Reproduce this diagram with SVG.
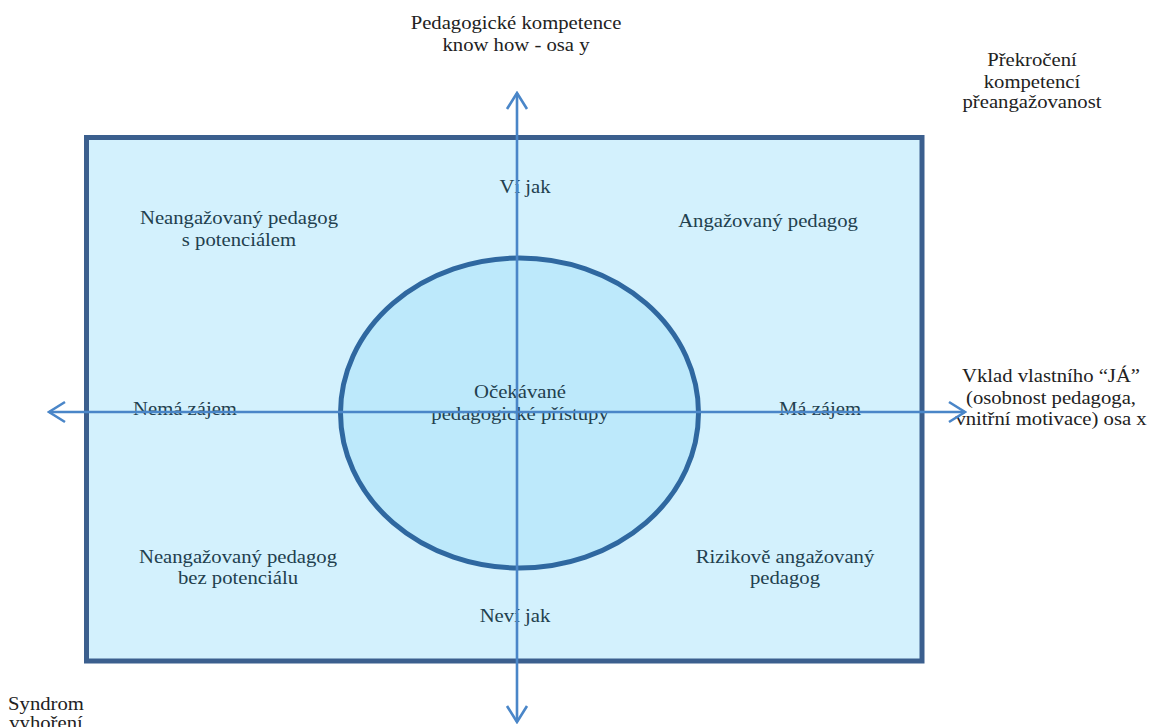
<svg xmlns="http://www.w3.org/2000/svg" width="1162" height="727" viewBox="0 0 1162 727" font-family="'Liberation Serif', 'Times New Roman', serif">
<defs>
<style>
text{font-family:'Liberation Serif','Times New Roman',serif;font-size:18px;text-anchor:middle}
.o{fill:#222}
.i{fill:#22404e}
.ax{stroke:#4a86c8;stroke-width:2.6;fill:none}
</style>
<marker id="ah" viewBox="0 0 20 24" refX="18" refY="12" markerWidth="20" markerHeight="24" markerUnits="userSpaceOnUse" orient="auto">
<path d="M2,2 L18,12 L2,22" fill="none" stroke="#4a86c8" stroke-width="2.6"/>
</marker>
</defs>
<rect width="1162" height="727" fill="#fff"/>
<g id="frame">
<rect x="86.5" y="137.5" width="835.5" height="523.5" fill="#d3f1fd" stroke="#3b5f8e" stroke-width="5"/>
</g>
<g id="center">
<ellipse cx="519.5" cy="413" rx="179" ry="155" fill="#bde9fb" stroke="#2f68a0" stroke-width="5"/>
<text class="i" transform="translate(520 398) scale(1.15 1)">Očekávané</text>
<text class="i" transform="translate(520 420) scale(1.15 1)">pedagogické přístupy</text>
</g>
<g id="title-y">
<text class="o" transform="translate(516 29) scale(1.15 1)">Pedagogické kompetence</text>
<text class="o" transform="translate(516 51) scale(1.15 1)">know how - osa y</text>
</g>
<g id="over">
<text class="o" transform="translate(1032 66) scale(1.15 1)">Překročení</text>
<text class="o" transform="translate(1032 88) scale(1.15 1)">kompetencí</text>
<text class="o" transform="translate(1032 108) scale(1.15 1)">přeangažovanost</text>
</g>
<g id="title-x">
<text class="o" transform="translate(1051 382) scale(1.15 1)">Vklad vlastního “JÁ”</text>
<text class="o" transform="translate(1051 404) scale(1.15 1)">(osobnost pedagoga,</text>
<text class="o" transform="translate(1051 425) scale(1.15 1)">vnitřní motivace) osa x</text>
</g>
<g id="burnout">
<text class="o" transform="translate(46 710) scale(1.15 1)">Syndrom</text>
<text class="o" transform="translate(46 729) scale(1.15 1)">vyhoření</text>
</g>
<g id="q-tl">
<text class="i" transform="translate(239 224) scale(1.15 1)">Neangažovaný pedagog</text>
<text class="i" transform="translate(239 246) scale(1.15 1)">s potenciálem</text>
</g>
<g id="q-tr">
<text class="i" transform="translate(768 227) scale(1.15 1)">Angažovaný pedagog</text>
</g>
<g id="q-bl">
<text class="i" transform="translate(238 563) scale(1.15 1)">Neangažovaný pedagog</text>
<text class="i" transform="translate(238 584) scale(1.15 1)">bez potenciálu</text>
</g>
<g id="q-br">
<text class="i" transform="translate(785 563) scale(1.15 1)">Rizikově angažovaný</text>
<text class="i" transform="translate(785 584) scale(1.15 1)">pedagog</text>
</g>
<g id="lbl-vi">
<text class="i" transform="translate(525 193) scale(1.15 1)">Ví jak</text>
</g>
<g id="lbl-nevi">
<text class="i" transform="translate(515 622) scale(1.15 1)">Neví jak</text>
</g>
<g id="lbl-nema">
<text class="i" transform="translate(185 415) scale(1.15 1)">Nemá zájem</text>
</g>
<g id="lbl-ma">
<text class="i" transform="translate(820 415) scale(1.15 1)">Má zájem</text>
</g>
<g id="connectors">
<line class="ax" x1="517" y1="408" x2="517" y2="93" marker-end="url(#ah)"/>
<line class="ax" x1="517" y1="408" x2="517" y2="722" marker-end="url(#ah)"/>
<line class="ax" x1="517" y1="412" x2="49" y2="412" marker-end="url(#ah)"/>
<line class="ax" x1="517" y1="412" x2="965" y2="412" marker-end="url(#ah)"/>
</g>
</svg>
